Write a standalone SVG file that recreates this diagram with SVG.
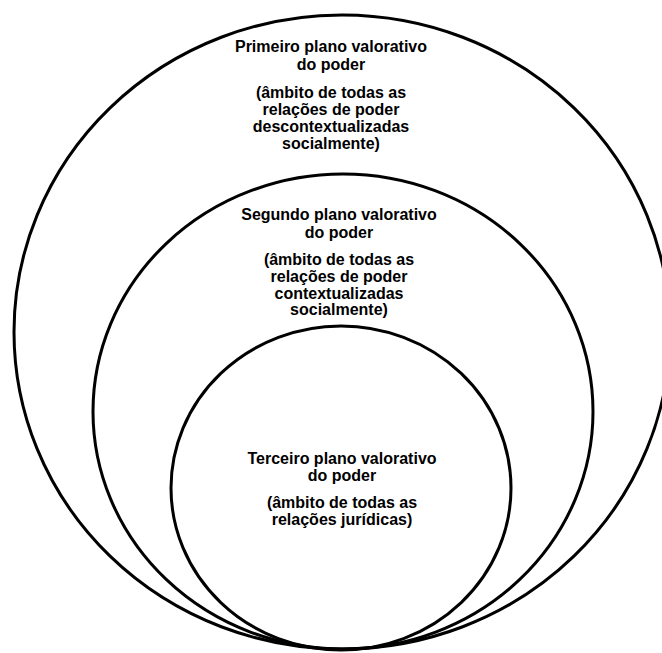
<svg xmlns="http://www.w3.org/2000/svg" width="662" height="653" viewBox="0 0 662 653">
<style>
.ring{fill:none;stroke:#000;stroke-width:3}
.t{font-family:"Liberation Sans",Arial,sans-serif;font-weight:bold;font-size:16px;fill:#000;text-anchor:middle}
</style>
<rect width="662" height="653" fill="#fff"/>
<g id="connectors"></g>
<g id="primeiro">
<ellipse class="ring" cx="342" cy="332" rx="328" ry="317"/>
<text class="t" x="331" y="52">Primeiro plano valorativo</text>
<text class="t" x="331" y="70">do poder</text>
<text class="t" x="331" y="98">(âmbito de todas as</text>
<text class="t" x="331" y="115">relações de poder</text>
<text class="t" x="331" y="132">descontextualizadas</text>
<text class="t" x="331" y="149">socialmente)</text>
</g>
<g id="segundo">
<ellipse class="ring" cx="343" cy="411.5" rx="250" ry="237.5"/>
<text class="t" x="339" y="220">Segundo plano valorativo</text>
<text class="t" x="339" y="238">do poder</text>
<text class="t" x="339" y="265">(âmbito de todas as</text>
<text class="t" x="339" y="282">relações de poder</text>
<text class="t" x="339" y="299">contextualizadas</text>
<text class="t" x="339" y="315">socialmente)</text>
</g>
<g id="terceiro">
<ellipse class="ring" cx="341" cy="488" rx="170" ry="162"/>
<text class="t" x="342" y="464">Terceiro plano valorativo</text>
<text class="t" x="342" y="481">do poder</text>
<text class="t" x="342" y="508">(âmbito de todas as</text>
<text class="t" x="342" y="525">relações jurídicas)</text>
</g>
</svg>
